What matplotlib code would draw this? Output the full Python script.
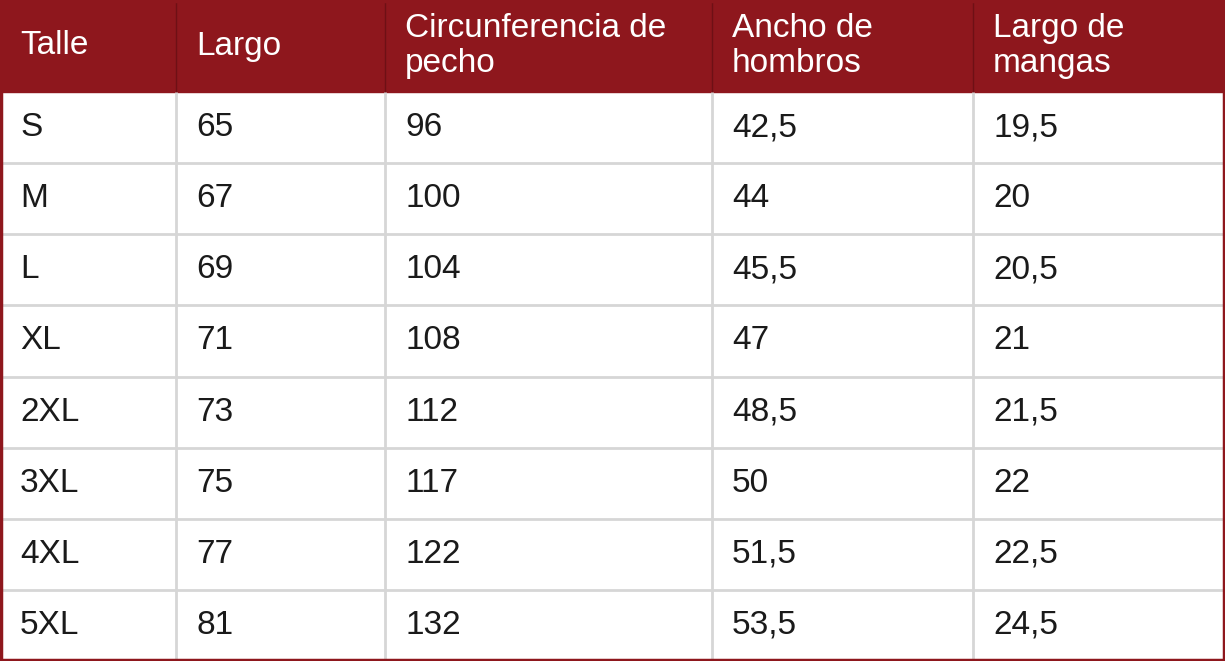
import matplotlib.pyplot as plt
from matplotlib.patches import Rectangle

plt.rcParams['font.family'] = ['Liberation Sans', 'DejaVu Sans']

headers = ["Talle", "Largo", "Circunferencia de\npecho", "Ancho de\nhombros", "Largo de\nmangas"]
talles = ["S", "M", "L", "XL", "2XL", "3XL", "4XL", "5XL"]
largo = ["65", "67", "69", "71", "73", "75", "77", "81"]
pecho = ["96", "100", "104", "108", "112", "117", "122", "132"]
hombros = ["42,5", "44", "45,5", "47", "48,5", "50", "51,5", "53,5"]
mangas = ["19,5", "20", "20,5", "21", "21,5", "22", "22,5", "24,5"]

W, H = 1225, 661
col_edges = [0, 176, 385, 712, 973, W]
head_h = 92
row_h = (H - head_h) / len(talles)
red = "#8e171d"
grid = "#d6d6d6"

fig = plt.figure(figsize=(W / 100, H / 100), dpi=100)
ax = fig.add_axes([0, 0, 1, 1])
ax.set_xlim(0, W)
ax.set_ylim(H, 0)
ax.axis("off")

ax.add_patch(Rectangle((0, 0), W, head_h, color=red, zorder=1))
for x in col_edges[1:-1]:
    ax.vlines(x, 0, head_h, color="#6e1015", lw=1, zorder=2)
    ax.vlines(x, head_h, H, color=grid, lw=2, zorder=2)
for i in range(1, len(talles)):
    y = head_h + i * row_h
    ax.hlines(y, 0, W, color=grid, lw=2, zorder=2)
# outer border
ax.add_patch(Rectangle((1, 1), W - 2, H - 2, fill=False, ec=red, lw=2.5, zorder=3))

pad = 20
fs = 24
for j, h in enumerate(headers):
    ax.text(col_edges[j] + pad, head_h / 2, h, color="white", fontsize=fs,
            va="center", ha="left", linespacing=1.2)

cols = [talles, largo, pecho, hombros, mangas]
for j, col in enumerate(cols):
    for i, v in enumerate(col):
        y = head_h + (i + 0.5) * row_h
        ax.text(col_edges[j] + pad, y, v, color="#1a1a1a", fontsize=fs,
                va="center", ha="left")

fig.savefig("out.png", dpi=100)
